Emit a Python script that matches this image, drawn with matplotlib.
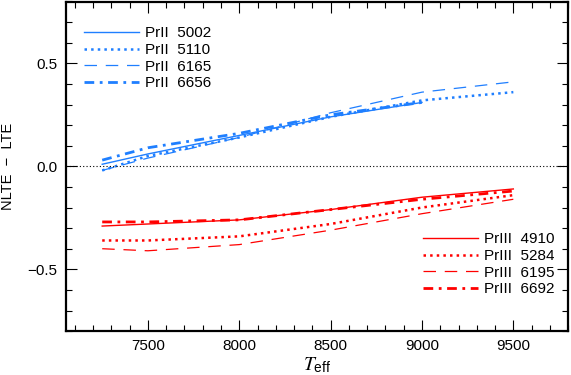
import numpy as np
import matplotlib
matplotlib.use('Agg')
import matplotlib.pyplot as plt
from matplotlib.ticker import MultipleLocator

plt.rcParams['font.family'] = ['Liberation Sans', 'DejaVu Sans']
plt.rcParams['mathtext.fontset'] = 'custom'
plt.rcParams['mathtext.it'] = 'STIXGeneral:italic'
plt.rcParams['mathtext.sf'] = 'Liberation Sans'

# effective temperatures of the model grid
teff = [7250, 7500, 8000, 8500, 9000, 9500]

# Pr II lines (blue)
pr2_labels = ['PrII  5002', 'PrII  5110', 'PrII  6165', 'PrII  6656']
pr2_5002 = [0.01, 0.06, 0.15, 0.24, 0.31]
pr2_5110 = [-0.02, 0.05, 0.14, 0.24, 0.32, 0.36]
pr2_6165 = [-0.02, 0.04, 0.14, 0.26, 0.36, 0.41]
pr2_6656 = [0.03, 0.09, 0.16, 0.25, 0.31]

# Pr III lines (red)
pr3_labels = ['PrIII  4910', 'PrIII  5284', 'PrIII  6195', 'PrIII  6692']
pr3_4910 = [-0.29, -0.28, -0.26, -0.21, -0.15, -0.11]
pr3_5284 = [-0.36, -0.36, -0.34, -0.28, -0.20, -0.14]
pr3_6195 = [-0.40, -0.41, -0.38, -0.31, -0.23, -0.16]
pr3_6692 = [-0.27, -0.27, -0.26, -0.21, -0.16, -0.12]

blue = '#1f7fff'
red = '#ff0000'
styles = [('-', 1.0), (':', 1.8), ((0, (10, 7)), 0.9), ((0, (3.5, 2, 1, 2)), 2.0)]

fig = plt.figure(figsize=(5.71, 3.75), dpi=100)
ax = fig.add_axes([0.115, 0.117, 0.88, 0.879])

h2 = []
for vals, (ls, lw) in zip([pr2_5002, pr2_5110, pr2_6165, pr2_6656], styles):
    l, = ax.plot(teff[:len(vals)], vals, color=blue, ls=ls, lw=lw)
    h2.append(l)
h3 = []
for vals, (ls, lw) in zip([pr3_4910, pr3_5284, pr3_6195, pr3_6692], styles):
    l, = ax.plot(teff[:len(vals)], vals, color=red, ls=ls, lw=lw)
    h3.append(l)

ax.axhline(0.0, color='black', ls=(0, (1, 2)), lw=0.8)

ax.set_xlim(7050, 9800)
ax.set_ylim(-0.8, 0.8)
ax.xaxis.set_major_locator(MultipleLocator(500))
ax.xaxis.set_minor_locator(MultipleLocator(100))
ax.yaxis.set_major_locator(MultipleLocator(0.5))
ax.yaxis.set_minor_locator(MultipleLocator(0.1))
ax.tick_params(which='both', direction='in', top=True, right=True, labelsize=11, width=0.8)
ax.tick_params(which='major', length=8, pad=6)
ax.tick_params(which='minor', length=4)
for s in ax.spines.values():
    s.set_linewidth(1.6)

ax.set_xlabel(r'$\mathit{T}_{\mathsf{eff}}$', fontsize=14, labelpad=1)
ax.set_ylabel('NLTE  \u2212  LTE', fontsize=10.5, labelpad=9)

leg2 = ax.legend(h2, pr2_labels, loc='upper left', bbox_to_anchor=(0.036, 0.925),
                 frameon=False, fontsize=11, handlelength=3.6, handletextpad=0.4,
                 labelspacing=0.18, borderpad=0, borderaxespad=0)
ax.add_artist(leg2)
ax.legend(h3, pr3_labels, loc='upper left', bbox_to_anchor=(0.711, 0.30),
          frameon=False, fontsize=11, handlelength=3.6, handletextpad=0.4,
          labelspacing=0.18, borderpad=0, borderaxespad=0)

fig.savefig('out.png', dpi=100)
